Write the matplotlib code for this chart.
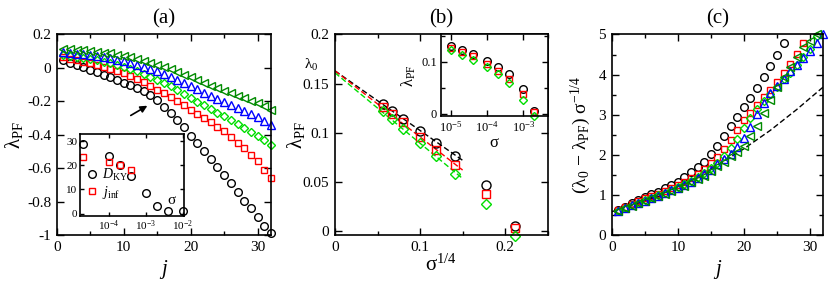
import numpy as np
import matplotlib
matplotlib.use("Agg")
import matplotlib.pyplot as plt
from matplotlib.ticker import MultipleLocator, NullLocator, LogLocator

plt.rcParams['font.family'] = ['Liberation Serif', 'DejaVu Serif']
plt.rcParams['mathtext.fontset'] = 'custom'
plt.rcParams['mathtext.rm'] = 'Liberation Serif'
plt.rcParams['mathtext.it'] = 'Liberation Serif:italic'
plt.rcParams['mathtext.sf'] = 'Liberation Serif'

# colours
c_black, c_red, c_green, c_blue, c_dkgreen = 'black', '#ff0000', '#00dd00', '#0000ff', '#008b00'

# ---- panel (a): lambda_PF vs j ----
j_a = np.arange(1, 33)
black_a = [0.045, 0.030, 0.017, 0.003, -0.012, -0.027, -0.042, -0.057, -0.072, -0.088, -0.104, -0.120,
           -0.140, -0.165, -0.195, -0.235, -0.270, -0.310, -0.355, -0.405, -0.450, -0.500, -0.545,
           -0.595, -0.640, -0.690, -0.740, -0.795, -0.840, -0.890, -0.945, -0.990]
red_a = [0.065, 0.056, 0.047, 0.037, 0.027, 0.017, 0.007, -0.004, -0.016, -0.030, -0.048, -0.067,
         -0.087, -0.108, -0.130, -0.153, -0.177, -0.201, -0.225, -0.250, -0.275, -0.300, -0.326,
         -0.352, -0.380, -0.413, -0.447, -0.482, -0.520, -0.560, -0.610, -0.660]
green_a = [0.080, 0.074, 0.068, 0.061, 0.054, 0.046, 0.038, 0.029, 0.019, 0.008, -0.005, -0.019,
           -0.035, -0.052, -0.070, -0.090, -0.111, -0.133, -0.156, -0.180, -0.202, -0.224, -0.246,
           -0.268, -0.290, -0.313, -0.336, -0.359, -0.382, -0.405, -0.432, -0.460]
blue_a = [0.095, 0.091, 0.086, 0.081, 0.076, 0.070, 0.064, 0.057, 0.049, 0.040, 0.030, 0.019,
          0.007, -0.006, -0.020, -0.036, -0.053, -0.071, -0.090, -0.110, -0.129, -0.148, -0.167,
          -0.187, -0.207, -0.224, -0.241, -0.258, -0.275, -0.292, -0.315, -0.340]
dkgreen_a = [0.115, 0.112, 0.109, 0.105, 0.101, 0.097, 0.092, 0.087, 0.080, 0.072, 0.063, 0.053,
             0.043, 0.032, 0.020, 0.006, -0.009, -0.024, -0.040, -0.057, -0.074, -0.090, -0.106,
             -0.122, -0.138, -0.153, -0.168, -0.183, -0.197, -0.212, -0.230, -0.250]

# inset (a): D_KY and j_inf vs sigma
sig_dky = [2e-5, 1e-4, 2e-4, 4e-4, 1e-3, 2e-3, 4e-3, 1e-2]
dky = [29.0, 24.0, 20.0, 15.5, 8.5, 3.0, 1.0, 1.0]
sig_jinf = [2e-5, 1e-4, 2e-4, 4e-4]
jinf = [23.5, 21.5, 20.0, 18.0]

# ---- panel (b): lambda_PF vs sigma^(1/4) ----
sigma_b = [1e-5, 2e-5, 4e-5, 1e-4, 2e-4, 4e-4, 1e-3, 2e-3]
black_b = [0.1295, 0.1217, 0.1143, 0.1014, 0.0896, 0.0761, 0.0473, 0.0054]
red_b = [0.1260, 0.1187, 0.1109, 0.0956, 0.0828, 0.0669, 0.0382, 0.0030]
green_b = [0.1217, 0.1136, 0.1041, 0.0896, 0.0761, 0.0585, 0.0271, -0.0048]
# linear fits: intercept lambda_0 and slope
fit_lam0 = [0.163, 0.163, 0.161]
fit_slope = [-0.607, -0.673, -0.717]
fit_x = [0.0, 0.15]

# ---- panel (c): scaled collapse ----
black_c = [0.625, 0.71, 0.79, 0.87, 0.95, 1.02, 1.08, 1.16, 1.25, 1.33, 1.45, 1.56, 1.69, 1.83,
           2.02, 2.23, 2.47, 2.71, 2.93, 3.18, 3.42, 3.67, 3.94, 4.22, 4.50, 4.78]
red_c = [0.62, 0.70, 0.77, 0.84, 0.91, 0.97, 1.03, 1.10, 1.17, 1.25, 1.33, 1.42, 1.53, 1.65, 1.79,
         1.95, 2.14, 2.38, 2.63, 2.86, 3.05, 3.25, 3.43, 3.62, 3.82, 4.03, 4.27, 4.52, 4.80]
green_c = [0.61, 0.68, 0.75, 0.81, 0.87, 0.93, 0.99, 1.05, 1.12, 1.19, 1.27, 1.35, 1.44, 1.54, 1.66,
           1.80, 1.96, 2.16, 2.39, 2.66, 2.92, 3.14, 3.33, 3.52, 3.70, 3.88, 4.05, 4.25, 4.45, 4.63, 4.95]
blue_c = [0.61, 0.68, 0.74, 0.80, 0.86, 0.92, 0.98, 1.04, 1.11, 1.18, 1.25, 1.33, 1.42, 1.52, 1.63,
          1.76, 1.90, 2.03, 2.20, 2.43, 2.70, 3.02, 3.30, 3.55, 3.72, 3.90, 4.08, 4.25, 4.42, 4.60,
          4.78, 5.00]
dkgreen_c = [0.60, 0.67, 0.73, 0.79, 0.85, 0.91, 0.97, 1.03, 1.09, 1.16, 1.23, 1.31, 1.39, 1.48, 1.59,
             1.71, 1.83, 1.96, 2.08, 2.23, 2.47, 2.72, 3.05, 3.37, 3.70, 3.95, 4.20, 4.45, 4.70, 4.83, 5.00]
# dashed reference curve
curve_j = [0, 4, 8, 12, 16, 20, 24, 28, 32]
curve_c = [0.58, 0.795, 1.06, 1.37, 1.74, 2.15, 2.61, 3.13, 3.69]

FS_TICK = 11
FS_LAB = 15
mk = dict(mfc='none', mew=1.0, ls='none', clip_on=False)


def style(ax, fs=FS_TICK):
    ax.tick_params(which='both', direction='in', top=True, right=True, labelsize=fs, pad=4)
    ax.tick_params(which='major', length=5, width=1)
    ax.tick_params(which='minor', length=3, width=1)
    for s in ax.spines.values():
        s.set_linewidth(1.2)


fig = plt.figure(figsize=(8.3, 2.82), dpi=100)
axa = fig.add_axes([0.0683, 0.1667, 0.2582, 0.711])
axb = fig.add_axes([0.4036, 0.1667, 0.2563, 0.711])
axc = fig.add_axes([0.7370, 0.1667, 0.2548, 0.711])

# panel (a)
axa.plot(j_a, black_a, 'o', color=c_black, ms=5.5, **mk)
axa.plot(j_a, red_a, 's', color=c_red, ms=5, **mk)
axa.plot(j_a, green_a, 'D', color=c_green, ms=4, **mk)
axa.plot(j_a, blue_a, '^', color=c_blue, ms=5.5, **mk)
axa.plot(j_a, dkgreen_a, '<', color=c_dkgreen, ms=5.5, **mk)
axa.set_xlim(0, 32)
axa.set_ylim(-1, 0.2)
axa.xaxis.set_major_locator(MultipleLocator(10))
axa.xaxis.set_minor_locator(MultipleLocator(5))
axa.set_yticks(np.arange(-1, 0.21, 0.2))
axa.set_yticklabels(['-1', '-0.8', '-0.6', '-0.4', '-0.2', '0', '0.2'])
style(axa)
axa.set_xlabel('$j$', fontsize=FS_LAB)
axa.set_ylabel('λ$_{\\rm PF}$', fontsize=FS_LAB)
axa.xaxis.set_label_coords(0.5, -0.115)
axa.yaxis.set_label_coords(-0.15, 0.5)
axa.set_title('(a)', fontsize=FS_LAB, pad=8)
axa.annotate('', xy=(13.9, -0.218), xytext=(10.7, -0.293),
             arrowprops=dict(arrowstyle='-|>', color='black', lw=1.2, mutation_scale=10))

# inset (a)
ina = fig.add_axes([0.0964, 0.2358, 0.1247, 0.289])
ina.plot(sig_dky, dky, 'o', color=c_black, ms=5.5, label='$D_{\\rm KY}$', **mk)
ina.plot(sig_jinf, jinf, 's', color=c_red, ms=5, label='$j_{\\rm inf}$', **mk)
ina.set_xscale('log')
ina.set_xlim(1.66e-5, 1.05e-2)
ina.set_ylim(-0.8, 33)
ina.xaxis.set_major_locator(LogLocator(base=10, numticks=10))
ina.xaxis.set_minor_locator(NullLocator())
ina.yaxis.set_major_locator(MultipleLocator(10))
style(ina, fs=8)
ina.tick_params(which='major', length=3, pad=2)
ina.legend(loc='lower left', bbox_to_anchor=(-0.02, 0.08), frameon=False, fontsize=10,
           handlelength=0.8, handletextpad=0.3, labelspacing=0.05, borderpad=0.1)
ina.text(0.885, 0.18, 'σ', transform=ina.transAxes, fontsize=11, ha='center', va='center')

# panel (b)
xb = np.array(sigma_b) ** 0.25
for lam0, slope, col in zip(fit_lam0, fit_slope, [c_black, c_red, c_green]):
    axb.plot(fit_x, [lam0 + slope * x for x in fit_x], '--', color=col, lw=1.0, dashes=(4, 2))
axb.plot(xb, black_b, 'o', color=c_black, ms=6.5, **mk)
axb.plot(xb, red_b, 's', color=c_red, ms=6, **mk)
axb.plot(xb, green_b, 'D', color=c_green, ms=5, **mk)
axb.set_xlim(0, 0.25)
axb.set_ylim(-0.004, 0.2)
axb.xaxis.set_major_locator(MultipleLocator(0.1))
axb.xaxis.set_minor_locator(MultipleLocator(0.05))
axb.yaxis.set_major_locator(MultipleLocator(0.05))
axb.xaxis.set_major_formatter(plt.FuncFormatter(lambda v, p: '0' if abs(v) < 1e-9 else f'{v:g}'))
axb.yaxis.set_major_formatter(plt.FuncFormatter(lambda v, p: '0' if abs(v) < 1e-9 else f'{v:g}'))
style(axb)
axb.set_xlabel('σ$^{1/4}$', fontsize=FS_LAB)
axb.set_ylabel('λ$_{\\rm PF}$', fontsize=FS_LAB)
axb.xaxis.set_label_coords(0.5, -0.1)
axb.yaxis.set_label_coords(-0.13, 0.5)
axb.set_title('(b)', fontsize=FS_LAB, pad=8)
axb.text(-0.02, 0.169, 'λ$_0$', fontsize=11, ha='right', va='center')

# inset (b)
inb = fig.add_axes([0.5313, 0.5887, 0.1286, 0.289])
inb.plot(sigma_b, black_b, 'o', color=c_black, ms=5.5, **mk)
inb.plot(sigma_b, red_b, 's', color=c_red, ms=5, **mk)
inb.plot(sigma_b, green_b, 'D', color=c_green, ms=4, **mk)
inb.set_xscale('log')
inb.set_xlim(5.4e-6, 4.7e-3)
inb.set_ylim(-0.004, 0.152)
inb.xaxis.set_major_locator(LogLocator(base=10, numticks=10))
inb.xaxis.set_minor_locator(NullLocator())
inb.yaxis.set_major_locator(MultipleLocator(0.1))
inb.yaxis.set_minor_locator(MultipleLocator(0.05))
inb.yaxis.set_major_formatter(plt.FuncFormatter(lambda v, p: '0' if abs(v) < 1e-9 else f'{v:g}'))
style(inb, fs=9)
inb.tick_params(which='major', length=4, pad=3)
inb.set_xlabel('σ', fontsize=12, labelpad=0)
inb.set_ylabel('λ$_{\\rm PF}$', fontsize=12, labelpad=2)

# panel (c)
axc.plot(curve_j, curve_c, '--', color='black', lw=1.0, dashes=(4, 2))
axc.plot(np.arange(1, len(black_c) + 1), black_c, 'o', color=c_black, ms=5.5, **mk)
axc.plot(np.arange(1, len(red_c) + 1), red_c, 's', color=c_red, ms=5, **mk)
axc.plot(np.arange(1, len(green_c) + 1), green_c, 'D', color=c_green, ms=4, **mk)
axc.plot(np.arange(1, len(blue_c) + 1), blue_c, '^', color=c_blue, ms=5.5, **mk)
axc.plot(np.arange(1, len(dkgreen_c) + 1), dkgreen_c, '<', color=c_dkgreen, ms=5.5, **mk)
axc.set_xlim(0, 32)
axc.set_ylim(0, 5)
axc.xaxis.set_major_locator(MultipleLocator(10))
axc.xaxis.set_minor_locator(MultipleLocator(5))
axc.yaxis.set_major_locator(MultipleLocator(1))
axc.yaxis.set_minor_locator(MultipleLocator(0.5))
style(axc)
axc.set_xlabel('$j$', fontsize=FS_LAB)
axc.set_ylabel('(λ$_0$ − λ$_{\\rm PF}$) σ$^{-1/4}$', fontsize=14)
axc.xaxis.set_label_coords(0.5, -0.115)
axc.yaxis.set_label_coords(-0.09, 0.5)
axc.set_title('(c)', fontsize=FS_LAB, pad=8)

fig.savefig('out.png', dpi=100)
